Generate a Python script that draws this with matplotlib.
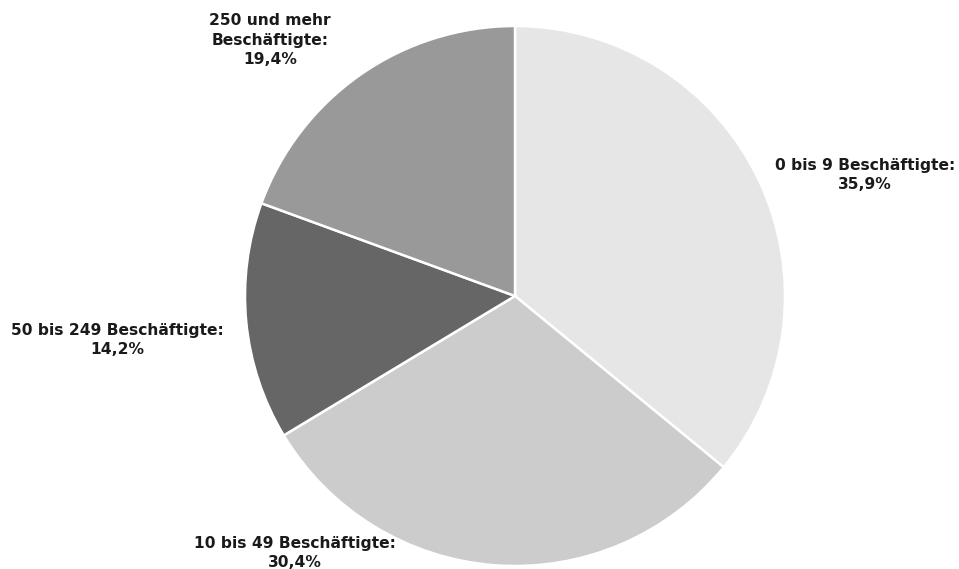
import matplotlib.pyplot as plt

labels = ['0 bis 9 Beschäftigte:', '10 bis 49 Beschäftigte:',
          '50 bis 249 Beschäftigte:', '250 und mehr\nBeschäftigte:']
shares = [35.9, 30.4, 14.2, 19.4]
colors = ['#e6e6e6', '#cccccc', '#666666', '#999999']

# label centres in units of the pie radius
label_pos = [(1.296, 0.448), (-0.815, -0.952), (-1.474, -0.163), (-0.907, 0.948)]

fig = plt.figure(figsize=(9.59, 5.69), dpi=100)
ax = fig.add_axes([0, 0, 1, 1])

wedges, texts = ax.pie(shares, colors=colors, startangle=90, counterclock=False,
                       wedgeprops=dict(edgecolor='white', linewidth=1.8))

for lab, val, (x, y) in zip(labels, shares, label_pos):
    txt = lab + '\n' + ('%.1f%%' % val).replace('.', ',')
    ax.text(x, y, txt, ha='center', va='center', fontsize=11.2, fontweight='bold',
            color='#1a1a1a', family='DejaVu Sans', linespacing=1.35)

ax.set_xlim(-515 / 270, (959 - 515) / 270)
ax.set_ylim(-(569 - 296) / 270, 296 / 270)
ax.set_aspect('equal')
ax.axis('off')

fig.savefig('out.png', dpi=100)
